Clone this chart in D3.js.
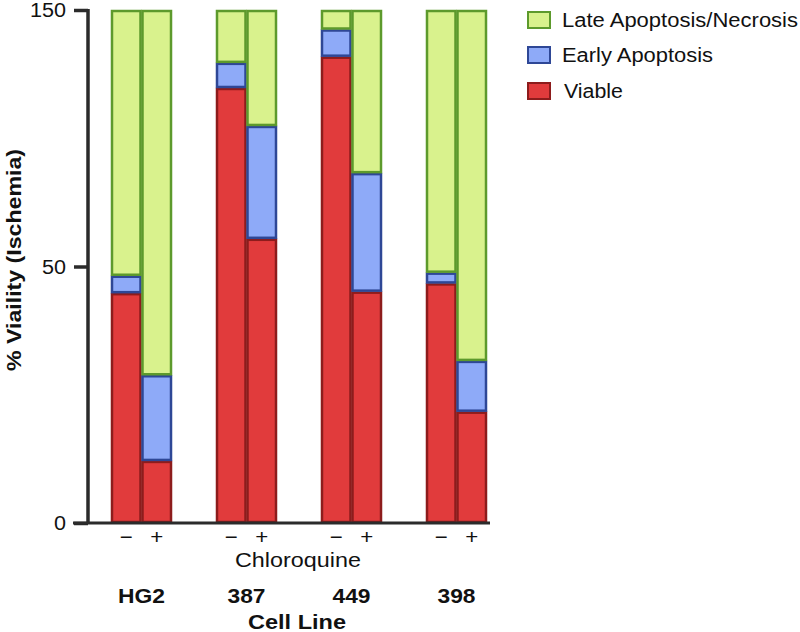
<!DOCTYPE html>
<html><head><meta charset="utf-8">
<script src="https://cdn.jsdelivr.net/npm/d3@7"></script>
<style>body{margin:0;background:#fff}svg{font-family:"Liberation Sans",Arial,Helvetica,sans-serif}</style>
</head><body><svg id="c" width="800" height="632"></svg>
<script>
const cellLines = ["HG2","387","449","398"];
const treatments = ["−","+"];
const viable = [44.8, 12.1, 84.8, 55.4, 90.9, 45.1, 46.7, 21.7];
const early  = [3.4, 16.7, 4.9, 22.0, 5.3, 23.1, 2.1, 9.9];
const late   = viable.map((v,i)=>100 - v - early[i]);
const tickValues = [0, 50, 100];
const tickLabels = ["0", "50", "150"];
const seriesNames = ["Viable","Early Apoptosis","Late Apoptosis/Necrosis"];
const legendOrder = ["Late Apoptosis/Necrosis","Early Apoptosis","Viable"];

const fills = {"Viable":"#e13b3c","Early Apoptosis":"#8eaaf8","Late Apoptosis/Necrosis":"#d9f28d"};
const strokes = {"Viable":"#8d1c1c","Early Apoptosis":"#2e4796","Late Apoptosis/Necrosis":"#5d9a2c"};

const svg = d3.select("#c");
const y = d3.scaleLinear().domain([0,100]).range([523,10]);
const xg = d3.scaleBand().domain(cellLines).range([90,508]).paddingInner(0.419).paddingOuter(0.2);
const xi = d3.scaleBand().domain(treatments).range([0, xg.bandwidth()]).padding(0);

const rows = [];
cellLines.forEach((c,gi)=>treatments.forEach((t,ti)=>{
  const i = gi*2+ti;
  rows.push({cell:c, tr:t, "Viable":viable[i], "Early Apoptosis":early[i], "Late Apoptosis/Necrosis":late[i]});
}));
const stack = d3.stack().keys(seriesNames)(rows);

const g = svg.append("g");
stack.forEach(layer=>{
  g.selectAll(null).data(layer).enter().append("rect")
    .attr("x", d=>xg(d.data.cell)+xi(d.data.tr)+1)
    .attr("width", xi.bandwidth()-2)
    .attr("y", d=>y(d[1])+1)
    .attr("height", d=>Math.max(0, y(d[0])-y(d[1])-2))
    .attr("fill", fills[layer.key])
    .attr("stroke", strokes[layer.key])
    .attr("stroke-width", 2.5);
});

// y axis
const yAxis = d3.axisLeft(y).tickValues(tickValues).tickFormat((d,i)=>tickLabels[i]).tickSize(14).tickPadding(8);
const ya = svg.append("g").attr("transform","translate(88,0)").call(yAxis);
ya.select(".domain").attr("stroke","#2b2b2b").attr("stroke-width",3.5).attr("d","M0,9V524");
ya.selectAll(".tick line").attr("stroke","#2b2b2b").attr("stroke-width",3.5);
ya.selectAll(".tick text").attr("font-size",19.5).attr("fill","#111").attr("font-family","Liberation Sans, Arial")
  .attr("dy","0.34em")
  .each(function(d,i){ const s=tickLabels[i]; d3.select(this).attr("textLength", s.length*12).attr("lengthAdjust","spacingAndGlyphs"); });

// x baseline
svg.append("line").attr("x1",73).attr("x2",490).attr("y1",523).attr("y2",523).attr("stroke","#2b2b2b").attr("stroke-width",3);

// treatment labels
cellLines.forEach(c=>treatments.forEach(t=>{
  svg.append("text").attr("x", xg(c)+xi(t)+xi.bandwidth()/2).attr("y",544)
    .attr("text-anchor","middle").attr("font-size",21).attr("fill","#111")
    .attr("textLength",13).attr("lengthAdjust","spacingAndGlyphs").text(t);
}));
svg.append("text").attr("x",298).attr("y",567).attr("text-anchor","middle").attr("font-size",21)
  .attr("textLength",126).attr("lengthAdjust","spacingAndGlyphs").attr("fill","#111").text("Chloroquine");
const cellW = {"HG2":47,"387":38,"449":38,"398":38};
cellLines.forEach(c=>{
  svg.append("text").attr("x", xg(c)+xg.bandwidth()/2).attr("y",603).attr("text-anchor","middle")
    .attr("font-size",21).attr("font-weight","bold").attr("fill","#111")
    .attr("textLength",cellW[c]).attr("lengthAdjust","spacingAndGlyphs").text(c);
});
svg.append("text").attr("x",297).attr("y",629).attr("text-anchor","middle").attr("font-size",21).attr("font-weight","bold")
  .attr("textLength",98).attr("lengthAdjust","spacingAndGlyphs").attr("fill","#111").text("Cell Line");

// y title
svg.append("text").attr("transform","translate(21,260) rotate(-90)").attr("text-anchor","middle")
  .attr("font-size",21).attr("font-weight","bold").attr("fill","#111")
  .attr("textLength",222).attr("lengthAdjust","spacingAndGlyphs").text("% Viaility (Ischemia)");

// legend
const ly = [20, 55, 91];
const legW = {"Late Apoptosis/Necrosis":236,"Early Apoptosis":151,"Viable":59};
legendOrder.forEach((k,i)=>{
  svg.append("rect").attr("x",528).attr("y",ly[i]-8).attr("width",22).attr("height",16)
    .attr("fill",fills[k]).attr("stroke",strokes[k]).attr("stroke-width",2);
  svg.append("text").attr("x", k==="Viable"?564:562).attr("y",ly[i]+7).attr("font-size",20)
    .attr("textLength",legW[k]).attr("lengthAdjust","spacingAndGlyphs").attr("fill","#111").text(k);
});
</script></body></html>
